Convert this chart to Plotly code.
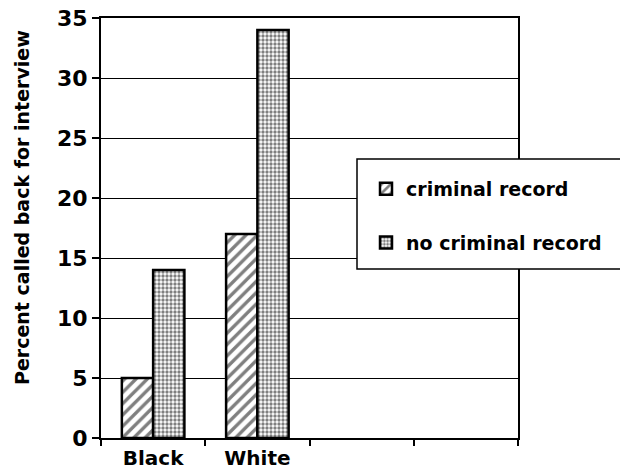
import plotly.graph_objects as go

categories = ["Black", "White", " ", "  "]
criminal_record = [5, 17, None, None]
no_criminal_record = [14, 34, None, None]
y_ticks = [0, 5, 10, 15, 20, 25, 30, 35]
y_title = "Percent called back for interview"

FONT = "DejaVu Sans, Arial, sans-serif"

fig = go.Figure()
fig.add_trace(go.Bar(
    name="criminal record", x=categories, y=criminal_record,
    marker=dict(color="white", line=dict(color="black", width=2.5),
                pattern=dict(shape="/", size=8, solidity=0.42, fgcolor="black", bgcolor="white")),
    legendgroup="a",
))
fig.add_trace(go.Bar(
    name="no criminal record", x=categories, y=no_criminal_record,
    marker=dict(color="white", line=dict(color="black", width=2.5),
                pattern=dict(shape=".", size=4, solidity=0.55, fgcolor="black", bgcolor="white")),
    legendgroup="b",
))

W, H = 620, 475
ml, mr, mt, mb = 101, 102, 18, 37
pw = W - ml - mr
ph = H - mt - mb

def px_x(p):
    return (p - ml) / pw

def px_y(p):
    return (H - mb - p) / ph

fig.add_shape(type="rect", xref="paper", yref="paper",
              x0=px_x(357), x1=px_x(640), y0=px_y(269), y1=px_y(159),
              fillcolor="white", line=dict(color="black", width=1.5), layer="above")

fig.add_annotation(text=y_title, xref="paper", yref="paper",
                   x=px_x(22), y=px_y(208), textangle=-90, showarrow=False,
                   xanchor="center", yanchor="middle",
                   font=dict(family=FONT, size=19, weight="bold", color="black"))

fig.update_layout(
    width=W, height=H,
    margin=dict(l=ml, r=mr, t=mt, b=mb, pad=0),
    paper_bgcolor="white", plot_bgcolor="white",
    barmode="group", bargap=0.4, bargroupgap=0,
    font=dict(family=FONT, color="black"),
    showlegend=True,
    legend=dict(x=px_x(366), y=px_y(170), xanchor="left", yanchor="top",
                bgcolor="rgba(0,0,0,0)", borderwidth=0,
                font=dict(family=FONT, size=19, color="black", weight="bold"),
                traceorder="grouped", tracegroupgap=26,
                itemwidth=30),
    xaxis=dict(type="category", categoryorder="array", categoryarray=categories,
               range=[-0.5, 3.5], tickson="boundaries", ticks="outside", ticklen=6,
               tickcolor="black", tickwidth=1.5, automargin=False,
               showline=True, linecolor="black", linewidth=2, mirror=True,
               ticklabelstandoff=1,
               tickfont=dict(family=FONT, size=20, weight="bold"),
               showgrid=False),
    yaxis=dict(range=[0, 35], tickvals=y_ticks, ticks="outside", ticklen=7,
               tickcolor="black", tickwidth=1.5, automargin=False,
               showline=True, linecolor="black", linewidth=2, mirror=True,
               showgrid=True, gridcolor="black", gridwidth=1,
               tickfont=dict(family=FONT, size=22, weight="bold")),
)

fig.write_html("out.html")
